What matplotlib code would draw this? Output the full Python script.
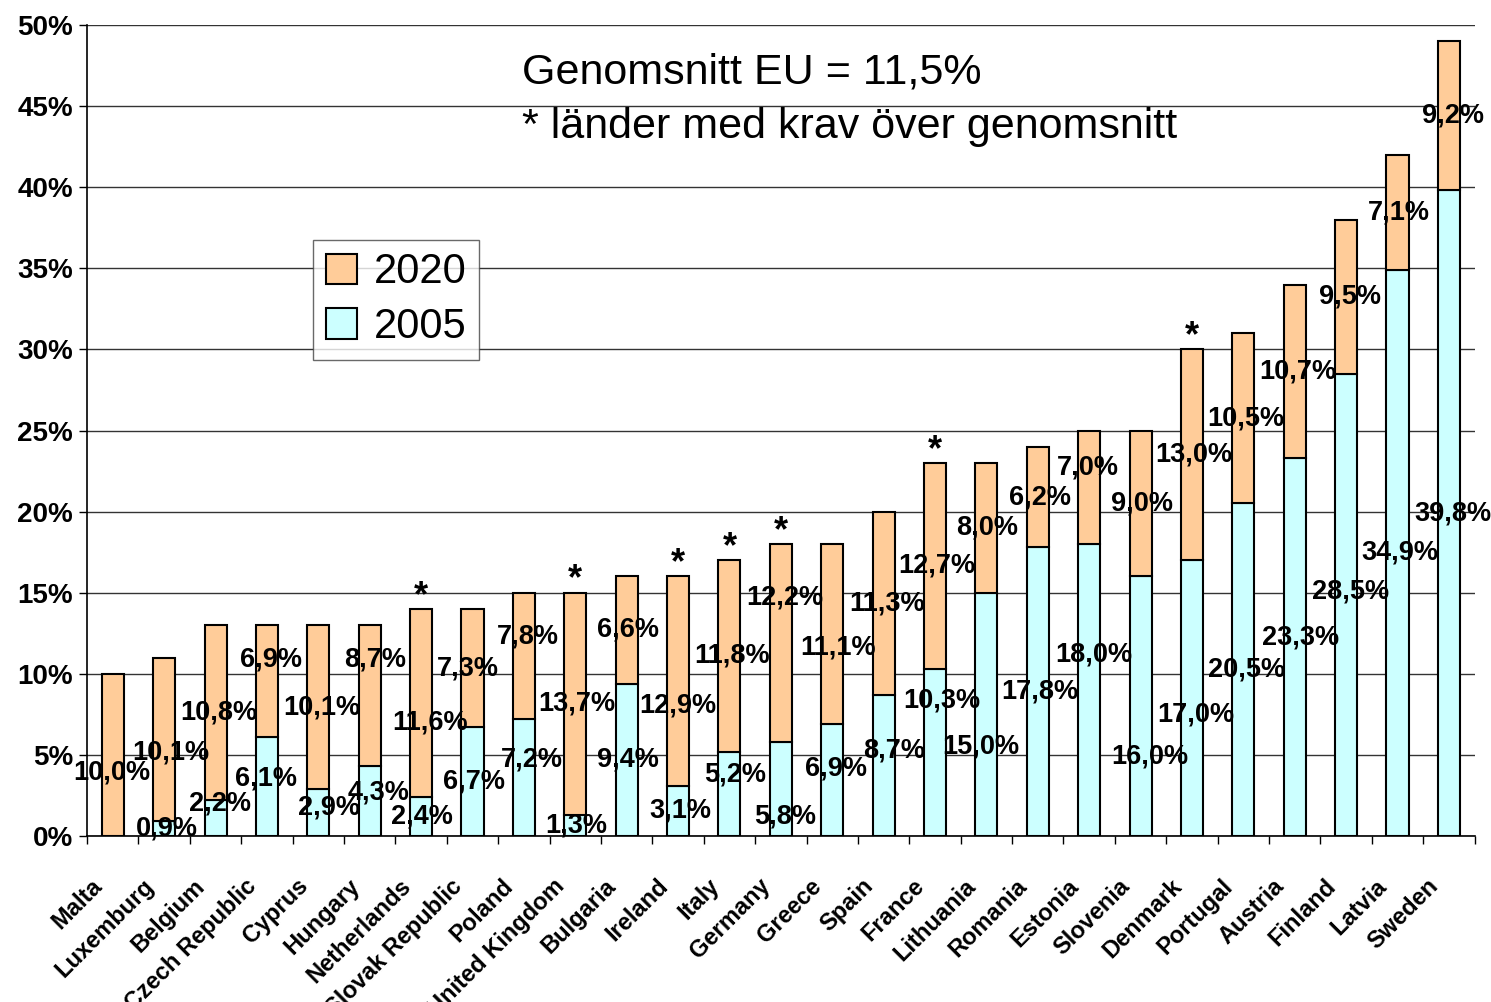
import numpy as np
import matplotlib.pyplot as plt
from matplotlib.transforms import ScaledTranslation

plt.rcParams['font.family'] = ['Liberation Sans', 'DejaVu Sans']

countries = ["Malta", "Luxemburg", "Belgium", "Czech Republic", "Cyprus", "Hungary",
             "Netherlands", "Slovak Republic", "Poland", "United Kingdom", "Bulgaria",
             "Ireland", "Italy", "Germany", "Greece", "Spain", "France", "Lithuania",
             "Romania", "Estonia", "Slovenia", "Denmark", "Portugal", "Austria",
             "Finland", "Latvia", "Sweden"]
share_2005 = [0.0, 0.9, 2.2, 6.1, 2.9, 4.3, 2.4, 6.7, 7.2, 1.3, 9.4, 3.1, 5.2, 5.8,
              6.9, 8.7, 10.3, 15.0, 17.8, 18.0, 16.0, 17.0, 20.5, 23.3, 28.5, 34.9, 39.8]
increase_2020 = [10.0, 10.1, 10.8, 6.9, 10.1, 8.7, 11.6, 7.3, 7.8, 13.7, 6.6, 12.9,
                 11.8, 12.2, 11.1, 11.3, 12.7, 8.0, 6.2, 7.0, 9.0, 13.0, 10.5, 10.7,
                 9.5, 7.1, 9.2]
above_avg = ["Netherlands", "United Kingdom", "Ireland", "Italy", "Germany",
             "France", "Denmark"]

# label nudges (like hand-dragged Excel labels): dx in pixels, dy in %-units
dx_2005 = [6, 3, 4, -1, 11, 9, 1, 2, 8, 1, 1.5, 2, 5.5, 4.5, 4, 10.5, 7, -6, 2.5,
           5, 9.5, 4, 3, 6, 4, 2, 4]
dy_2005 = [-0.55, 0, 0.9, 0.5, 0.3, 0.5, 0, 0, 1.1, 0, 0, 0, 1.2, -1.7, 0.7, 0.9,
           3.2, -2.0, 0, 2.2, -3.1, -1.0, 0, 0.6, 0.8, 0, 0]
dx_2020 = [-1, 7, 3, 4, 3, 5, 9, -5, 4, 2, 1.5, 0, 3, 4, 5.5, 3.5, 2, 1, 2.5, -1,
           1.5, 2, 2.5, 3, 4, 1, 4]
dy_2020 = [-1.1, -0.8, 0, 1.3, 0, 2.2, -1.2, 0, 1.2, 0, 0, -1.5, 0, 2.8, -0.8, 0,
           0, 0, 0, 1.2, 0, 0, 0, 0, 0, 0, 0]

x = np.arange(len(countries))
base = np.array(share_2005)
inc = np.array(increase_2020)

fig = plt.figure(figsize=(14.91, 10.02), dpi=100)
ax = fig.add_axes([0.0584, 0.1657, 0.9306, 0.8093])

w = 0.43
b05 = ax.bar(x, base, w, color="#CCFFFF", edgecolor="black", linewidth=1.5,
             label="2005", zorder=3)
b20 = ax.bar(x, inc, w, bottom=base, color="#FFCC99", edgecolor="black",
             linewidth=1.5, label="2020", zorder=3)

def fmt(v):
    return f"{v:.1f}%".replace(".", ",")

for i in range(len(countries)):
    ax.annotate(fmt(base[i]), (x[i], base[i] / 2 + dy_2005[i]),
                xytext=(dx_2005[i] * 0.72, 0), textcoords="offset points",
                ha="center", va="center", fontsize=19.5, fontweight="bold",
                zorder=4)
    ax.annotate(fmt(inc[i]), (x[i], base[i] + inc[i] / 2 + dy_2020[i]),
                xytext=(dx_2020[i] * 0.72, 0), textcoords="offset points",
                ha="center", va="center", fontsize=19.5, fontweight="bold",
                zorder=4)
    if countries[i] in above_avg:
        ax.text(x[i], base[i] + inc[i] - 0.3, "*", ha="center", va="bottom",
                fontsize=26, fontweight="bold")

ax.set_xlim(-0.5, len(countries) - 0.5)
ax.set_ylim(0, 50)
ax.set_yticks(np.arange(0, 51, 5))
ax.set_yticklabels([f"{v}%" for v in range(0, 51, 5)], fontsize=20,
                   fontweight="bold")
ax.yaxis.grid(True, color="#333333", linewidth=1)
ax.set_axisbelow(True)

ax.set_xticks(x)
ax.set_xticklabels(countries, rotation=45, ha="right", rotation_mode="anchor",
                   fontsize=17, fontweight="bold")
ax.tick_params(axis="x", length=0, pad=22)
shift = ScaledTranslation(-0.22, -0.08, fig.dpi_scale_trans)
for lbl in ax.get_xticklabels():
    lbl.set_transform(lbl.get_transform() + shift)
ax.set_xticks(np.arange(-0.5, len(countries), 1), minor=True)
ax.tick_params(axis="x", which="minor", length=6, width=1)
ax.tick_params(axis="y", length=6, width=1, pad=4)

for s in ["top", "right"]:
    ax.spines[s].set_visible(False)
ax.spines["left"].set_linewidth(1.2)
ax.spines["bottom"].set_linewidth(1.2)

fig.text(0.35, 0.928, "Genomsnitt EU = 11,5%", fontsize=31, va="center")
fig.text(0.35, 0.873, "* länder med krav över genomsnitt", fontsize=31,
         va="center")

leg = ax.legend(handles=[b20, b05], labels=["2020", "2005"], loc="upper left",
                bbox_to_anchor=(0.163, 0.735), fontsize=30, frameon=True,
                fancybox=False, edgecolor="#444444", handlelength=0.75,
                handleheight=0.75, handletextpad=0.4, borderpad=0.3,
                labelspacing=0.35, borderaxespad=0)
leg.get_frame().set_linewidth(1)

fig.savefig("out.png", dpi=100)
